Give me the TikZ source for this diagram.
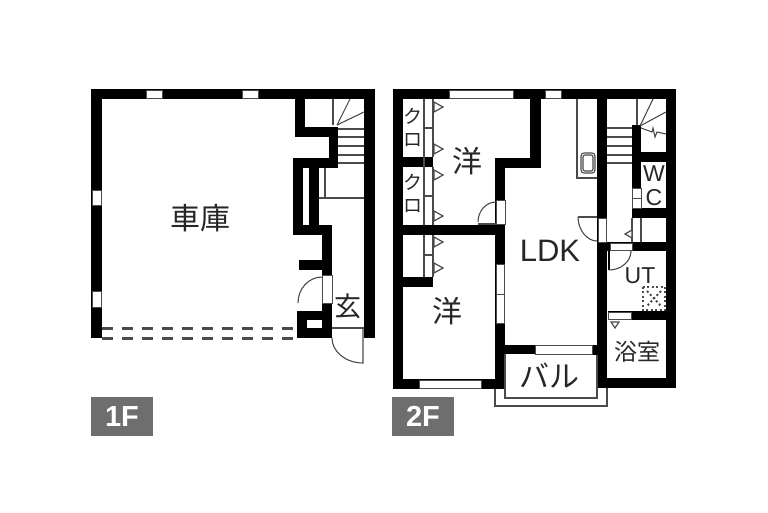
\documentclass[tikz,border=0pt]{standalone}
\usepackage{fontspec}
\setmainfont{Liberation Sans}
\newfontfamily\cjk{Noto Sans CJK JP}
\definecolor{badge}{HTML}{6E6E6E}
\definecolor{thin}{HTML}{4A4A4A}
\tikzset{
  wall/.style={fill=black,draw=none},
  win/.style={fill=white,draw=thin,line width=1pt},
  ln/.style={draw=thin,line width=1.1pt},
  dashln/.style={draw=thin,line width=3pt,dash pattern=on 11pt off 9pt},
  lab/.style={inner sep=0pt,text=black!85},
  tag/.style={fill=badge,minimum width=62pt,minimum height=39pt,inner sep=0pt,text=white,font=\fontsize{29}{29}\selectfont\bfseries},
  tri/.style={fill=white,draw=thin,line width=1.2pt},
  dotln/.style={draw=thin,line width=2pt,dash pattern=on 2pt off 2.4pt}
}
\begin{document}
\begin{tikzpicture}[x=1pt,y=-1pt]
\useasboundingbox (0,0) rectangle (768,512);
\fill[white] (0,0) rectangle (768,512);
% ---------- 1F ----------
\fill[wall] (91,89) rectangle (375,99);
\fill[wall] (91,89) rectangle (102,338);
\fill[wall] (364,89) rectangle (375,338);
\fill[wall] (295,99) rectangle (305,137);
\fill[wall] (295,127) rectangle (338,137);
\fill[wall] (329,127) rectangle (338,168);
\fill[wall] (293,158) rectangle (338,168);
\fill[wall] (293,158) rectangle (319,235);
\fill[wall] (293,225) rectangle (332,235);
\fill[wall] (322,225) rectangle (332,275);
\fill[wall] (299,260) rectangle (332,270);
\fill[wall] (322,303) rectangle (332,338);
\fill[wall] (297,311) rectangle (332,338);
\fill[white] (303,168) rectangle (309,225);
\fill[white] (307,320) rectangle (322,328);
\draw[win] (146,90) rectangle (162,98);
\draw[win] (242,90) rectangle (258,98);
\draw[win] (92,190) rectangle (101,205);
\draw[win] (92,291) rectangle (101,307);
\draw[win] (322,275) rectangle (332,303);
% stairs 1F
\draw[ln] (333,99) -- (333,125);
\draw[ln] (337,125) -- (350,99);
\draw[ln] (337,125) -- (364,112);
\foreach \yy in {129,137,146,155,163} \draw[ln] (338,\yy) -- (364,\yy);
\draw[ln] (325,168) -- (325,198);
\draw[ln] (319,198) -- (364,198);
% door 1F
\draw[ln] (322,277) .. controls (308.7,277) and (298,288.6) .. (298,303);
\draw[ln] (332,338) .. controls (332,351.8) and (345.9,363) .. (363,363) -- (363,328);
\draw[ln] (332,328) -- (364,328);
\draw[dashln] (102,328) -- (297,328);
\draw[dashln] (102,338) -- (297,338);
\node[lab,font=\cjk\fontsize{30}{30}\selectfont] (t1) at (200,218) {車庫};
\node[lab,font=\cjk\fontsize{27}{27}\selectfont] (t2) at (348,306) {玄};
\node[tag] (f1) at (122,416.5) {1F};
% ---------- 2F ----------
\fill[wall] (393,89) rectangle (676,99);
\fill[wall] (393,89) rectangle (403,389);
\fill[wall] (666,89) rectangle (676,388);
\fill[wall] (530,99) rectangle (541,168);
\fill[wall] (495,158) rectangle (541,168);
\fill[wall] (495,158) rectangle (505,389);
\fill[wall] (403,225) rectangle (505,235);
\fill[wall] (403,157) rectangle (433,167);
\fill[wall] (403,277) rectangle (433,287);
\fill[wall] (393,379) rectangle (505,389);
\fill[wall] (505,345) rectangle (535,354);
\fill[wall] (597,99) rectangle (607,388);
\fill[wall] (592,345) rectangle (607,355);
\fill[wall] (598,378) rectangle (676,388);
\fill[wall] (632,125) rectangle (641,218);
\fill[wall] (641,152) rectangle (666,162);
\fill[wall] (632,208) rectangle (666,218);
\fill[wall] (597,242) rectangle (676,251);
\fill[wall] (608,311) rectangle (666,320);
% windows and openings 2F
\draw[win] (449,90) rectangle (513,98);
\draw[win] (545,90) rectangle (561,98);
\draw[win] (496,200) rectangle (505,224);
\draw[win] (496,264) rectangle (504,294);
\draw[win] (496,294) rectangle (504,323);
\draw[win] (419,380) rectangle (481,388);
\draw[win] (535,345) rectangle (592,354);
\draw[win] (598,218) rectangle (606,242);
\draw[win] (632,188) rectangle (641,198);
\draw[win] (632,198) rectangle (641,208);
\fill[white] (632,218) rectangle (641,242);
\draw[ln] (632,218) -- (632,242) (641,218) -- (641,242);
\draw[win] (610,243) rectangle (632,250);
\draw[win] (608,312) rectangle (631,319);
% closets
\draw[ln] (424,99) -- (424,225) (433,99) -- (433,157) (433,167) -- (433,225);
\draw[ln] (424,128) -- (433,128) (424,196) -- (433,196);
\draw[ln] (424,235) -- (424,277) (433,235) -- (433,277) (424,255) -- (433,255);
\foreach \yy in {107,149,175,216,242,268}
  \draw[tri] (434,\yy-5) -- (443,\yy) -- (434,\yy+5) -- cycle;
% door room
\draw[ln] (478,222) .. controls (478,211) and (486,202) .. (496,202);
\draw[ln] (478,224) -- (496,224);
% kitchen
\draw[ln] (577,99) -- (577,178) -- (597,178);
\draw[ln,rounded corners=3pt] (581,153) rectangle (595,173);
\draw[ln,rounded corners=2pt] (583,155) rectangle (593,171);
\draw[ln] (578,217) -- (597,217);
\draw[ln] (578,217) .. controls (578,230) and (587,241) .. (597,241);
% stairs 2F
\foreach \yy in {128,137,146,155,163} \draw[ln] (607,\yy) -- (632,\yy);
\draw[ln] (637,99) -- (637,125);
\draw[ln] (640,126) -- (653,99);
\draw[ln] (640,126) -- (666,112);
\draw[ln] (641,128) -- (652,132) -- (653,128) -- (655,137) -- (657,132) -- (666,134);
\draw[tri] (632,230) -- (625,234) -- (632,238) -- cycle;
% doors right
\fill[thin] (608,251) rectangle (610,270);
\draw[ln] (609,270) .. controls (621,270) and (631,261.5) .. (631,251);
\draw[tri] (611,322) -- (619,322) -- (615,328) -- cycle;
% balcony
\draw[ln] (505,354) -- (505,398) -- (597,398) -- (597,355);
\draw[ln] (495,389) -- (495,406) -- (607,406) -- (607,388);
% washer tray
\draw[dotln] (643,287) rectangle (665,310);
\draw[dotln] (647,291) -- (661,306) (661,291) -- (647,306);
% labels
\node[lab,font=\cjk\fontsize{19}{19}\selectfont] (k1) at (413,116) {ク};
\node[lab,font=\cjk\fontsize{19}{19}\selectfont] (k2) at (413,140) {ロ};
\node[lab,font=\cjk\fontsize{19}{19}\selectfont] (k3) at (413,182) {ク};
\node[lab,font=\cjk\fontsize{19}{19}\selectfont] (k4) at (413,206) {ロ};
\node[lab,font=\cjk\fontsize{30}{30}\selectfont] (y1) at (467,161) {洋};
\node[lab,font=\cjk\fontsize{30}{30}\selectfont] (y2) at (447,311) {洋};
\node[lab,font=\fontsize{31}{31}\selectfont] (ldk) at (550,251) {LDK};
\node[lab,font=\cjk\fontsize{30}{30}\selectfont] (bal) at (549,376) {バル};
\node[lab,font=\fontsize{23}{23}\selectfont] (w) at (654,174) {W};
\node[lab,font=\fontsize{23}{23}\selectfont] (c) at (654,198) {C};
\node[lab,font=\fontsize{23}{23}\selectfont] (ut) at (640,276) {UT};
\node[lab,font=\cjk\fontsize{23}{23}\selectfont] (bath) at (637,352) {浴室};
\node[tag] (f2) at (423,416.5) {2F};
\end{tikzpicture}
\end{document}
